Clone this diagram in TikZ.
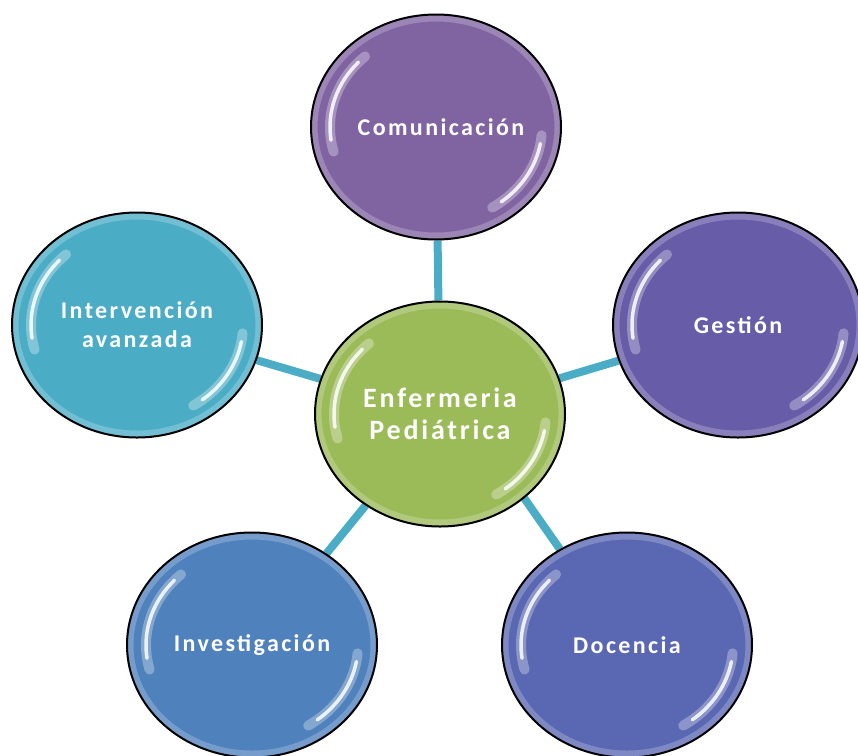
\documentclass[tikz,border=0pt]{standalone}
\usepackage{fontspec}
\setmainfont{Carlito}
\newfontfamily\lblfont[LetterSpace=10]{Carlito}
\usetikzlibrary{shapes.geometric,backgrounds}
\definecolor{cgreen}{HTML}{9BBB59}
\definecolor{ccom}{HTML}{8064A2}
\definecolor{cges}{HTML}{675CA8}
\definecolor{cdoc}{HTML}{5A68B3}
\definecolor{cinv}{HTML}{4F81BD}
\definecolor{cint}{HTML}{4BACC6}
\definecolor{cline}{HTML}{4BACC6}
\tikzset{
  bubble/.style={ellipse, draw=black, line width=2pt, minimum width=250pt, minimum height=225pt,
    inner sep=0pt, text=white, align=center, font=\lblfont\bfseries\fontsize{24}{29}\selectfont,
    path picture={
      \draw[white, opacity=.22, line width=7pt]
        (path picture bounding box.center) ellipse[x radius=122, y radius=109];
      \draw[white, opacity=.3, line width=10pt, line cap=round]
        ([shift={(-132:106 and 95)}]path picture bounding box.center)
        arc[start angle=-132, end angle=-195, x radius=106, y radius=95];
      \draw[white, opacity=.85, line width=3.5pt, line cap=round]
        ([shift={(-137:106 and 95)}]path picture bounding box.center)
        arc[start angle=-137, end angle=-188, x radius=106, y radius=95];
      \draw[white, opacity=.3, line width=10pt, line cap=round]
        ([shift={(5:106 and 95)}]path picture bounding box.center)
        arc[start angle=5, end angle=58, x radius=106, y radius=95];
      \draw[white, opacity=.85, line width=3.5pt, line cap=round]
        ([shift={(10:106 and 95)}]path picture bounding box.center)
        arc[start angle=10, end angle=52, x radius=106, y radius=95];
    }},
  link/.style={draw=cline, line width=8pt}
}
\begin{document}
\begin{tikzpicture}[x=1pt,y=-1pt]
\useasboundingbox (0,0) rectangle (858,755);
\node[bubble, fill=ccom] (com) at (436,127) {\hspace*{10pt}Comunicación};
\node[bubble, fill=cges] (ges) at (738,325) {Gestión};
\node[bubble, fill=cint] (int) at (137,325) {Intervención\\avanzada};
\node[bubble, fill=cinv] (inv) at (252,645) {Investigación};
\node[bubble, fill=cdoc] (doc) at (627,645) {Docencia};
\node[bubble, fill=cgreen, font=\lblfont\bfseries\fontsize{28}{32}\selectfont] (cen) at (440,414) {Enfermeria\\Pediátrica};
\begin{scope}[on background layer]
\draw[link] (cen) -- (com);
\draw[link] (cen) -- (ges);
\draw[link] (cen) -- (int);
\draw[link] (cen) -- (inv);
\draw[link] (cen.-45) -- (doc);
\end{scope}
\end{tikzpicture}
\end{document}
